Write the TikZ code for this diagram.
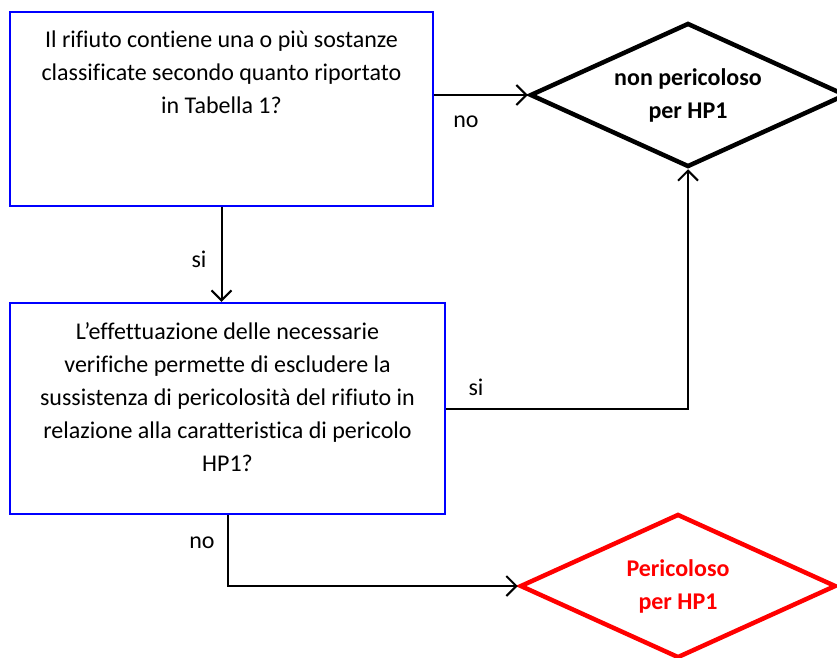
\documentclass[tikz,border=0pt]{standalone}
\usepackage{fontspec}
\setmainfont{Carlito}[Ligatures=NoCommon]
\usetikzlibrary{shapes.geometric,arrows.meta}
\begin{document}
\begin{tikzpicture}[x=1pt,y=-1pt,
  qbox/.style={draw={rgb,255:red,0;green,0;blue,255}, line width=2.5pt, rectangle, inner sep=0pt},
  qtext/.style={align=center, font=\fontsize{24}{32.7}\selectfont, inner sep=0pt},
  endok/.style={draw=black, line width=4.5pt, diamond, aspect=2.19, minimum width=316pt, minimum height=144pt, inner sep=0pt, align=center, font=\fontsize{24}{33}\selectfont\bfseries},
  endko/.style={endok, draw={rgb,255:red,255;green,0;blue,0}, text={rgb,255:red,255;green,0;blue,0}},
  arr/.style={draw=black, line width=2pt, -{Straight Barb[length=10pt,width=20pt,line width=2pt]}},
  lbl/.style={font=\fontsize{24}{28}\selectfont, inner sep=0pt}]
\useasboundingbox (0,0) rectangle (837,657);
\node[qbox, minimum width=423pt, minimum height=194pt] (q1) at (221.5,109) {};
\node[qtext, anchor=north] (t1) at (221.5,31) {Il rifiuto contiene una o più sostanze\\classificate secondo quanto riportato\\in Tabella 1?};
\node[qbox, minimum width=435pt, minimum height=211pt] (q2) at (227.5,408.5) {};
\node[qtext, anchor=north, font=\fontsize{24}{33.1}\selectfont] (t2) at (227.5,322) {L’effettuazione delle necessarie\\verifiche permette di escludere la\\sussistenza di pericolosità del rifiuto in\\relazione alla caratteristica di pericolo\\HP1?};
\node[endok] (d1) at (688,95) {non pericoloso\\per HP1};
\node[endko] (d2) at (678,586) {Pericoloso\\per HP1};
\draw[arr] (d1.west -| q1.east) -- (d1.west);
\draw[arr] (q1.south) -- (q1.south |- q2.north);
\draw[arr] (q2.east) -| (d1.south);
\draw[arr] (q2.south) |- (d2.west);
\node[lbl] (l1) at (466,122) {no};
\node[lbl] (l2) at (199,259) {si};
\node[lbl] (l3) at (476,387) {si};
\node[lbl] (l4) at (202,543) {no};
\end{tikzpicture}
\end{document}
